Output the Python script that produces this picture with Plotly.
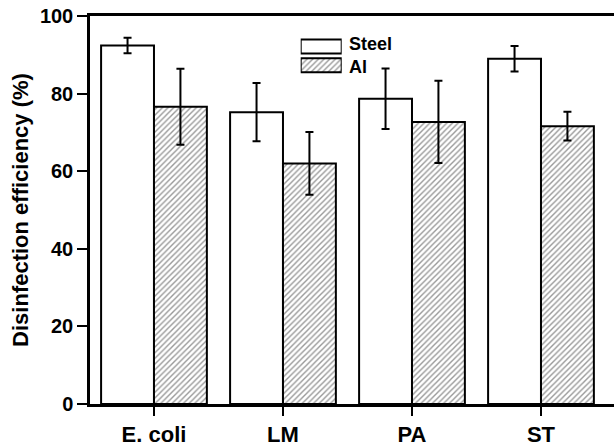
import plotly.graph_objects as go

categories = ["E. coli", "LM", "PA", "ST"]
steel = [92.4, 75.2, 78.7, 89.0]
steel_err = [2.0, 7.5, 7.8, 3.3]
al = [76.6, 62.0, 72.7, 71.6]
al_err = [9.8, 8.1, 10.6, 3.7]
y_ticks = [0, 20, 40, 60, 80, 100]
legend_names = ["Al", "Steel"]

FONT = "Liberation Sans"
hatch = dict(shape="/", fgcolor="#333", bgcolor="white", size=4, solidity=0.35)

fig = go.Figure()
fig.add_trace(go.Bar(
    x=categories, y=steel, name="Steel",
    marker=dict(color="white", line=dict(color="black", width=2)),
    error_y=dict(type="data", array=steel_err, color="black", thickness=2, width=4),
    showlegend=False,
))
fig.add_trace(go.Bar(
    x=categories, y=al, name="Al",
    marker=dict(color="white", line=dict(color="black", width=2), pattern=hatch),
    error_y=dict(type="data", array=al_err, color="black", thickness=2, width=4),
    showlegend=False,
))

# custom legend swatches drawn as bars on overlay axes
fig.add_trace(go.Bar(
    y=legend_names, x=[1, 1], orientation="h", width=0.75,
    xaxis="x2", yaxis="y2", showlegend=False, hoverinfo="skip",
    marker=dict(color="white", line=dict(color="black", width=2),
                pattern=dict(shape=["/", ""], fgcolor="#333", bgcolor="white", size=4, solidity=0.35)),
))

W, H = 614, 447
L, R, T, B = 90, 0, 16, 37
PW, PH = W - L - R, H - T - B

def px(x):
    return (x - L) / PW

def py(y):
    return (H - B - y) / PH

fig.update_layout(
    width=W, height=H,
    margin=dict(l=L, r=R, t=T, b=B),
    plot_bgcolor="white", paper_bgcolor="white",
    barmode="group", bargap=0.18, bargroupgap=0,
    font=dict(family=FONT, color="black"),
    xaxis=dict(
        range=[-0.496, 3.566], showline=True, linecolor="black", linewidth=2.5,
        mirror=True, ticks="outside", ticklen=9, tickwidth=2, tickcolor="black",
        tickfont=dict(size=22, family=FONT, weight="bold"), showgrid=False, zeroline=False,
    ),
    yaxis=dict(
        range=[0, 100], tickvals=y_ticks, showline=True, linecolor="black", linewidth=2.5,
        ticks="outside", ticklen=10, tickwidth=2, tickcolor="black",
        tickfont=dict(size=20, family=FONT, weight="bold"), showgrid=False, zeroline=False,
        title=dict(text="Disinfection efficiency (%)", font=dict(size=22, family=FONT, weight="bold"), standoff=6),
    ),
    xaxis2=dict(domain=[px(300.7), px(341.7)], range=[0, 1], visible=False, anchor="y2", fixedrange=True),
    yaxis2=dict(domain=[py(75.5), py(37.5)], visible=False, anchor="x2", fixedrange=True,
                categoryorder="array", categoryarray=legend_names),
)

fig.add_annotation(x=px(347), y=py(44.5), xref="paper", yref="paper", text="Steel",
                   showarrow=False, xanchor="left", yanchor="middle",
                   font=dict(size=18, family=FONT, weight="bold"))
fig.add_annotation(x=px(347), y=py(67.5), xref="paper", yref="paper", text="Al",
                   showarrow=False, xanchor="left", yanchor="middle",
                   font=dict(size=18, family=FONT, weight="bold"))

fig.write_html("out.html")
